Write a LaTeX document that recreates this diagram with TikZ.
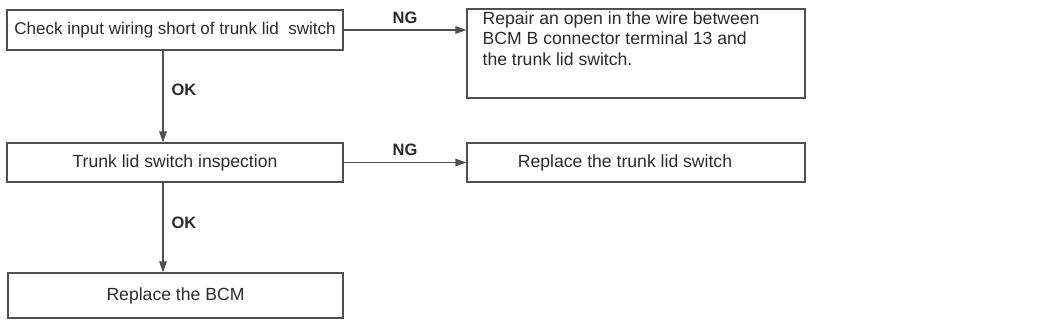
\documentclass[tikz,border=0pt]{standalone}
\usepackage{fontspec}
\setmainfont{Liberation Sans}
\usetikzlibrary{arrows.meta,positioning}
\definecolor{linec}{HTML}{505050}
\definecolor{textc}{HTML}{2A2A2A}
\tikzset{
  box/.style={draw=linec, line width=1.1pt, rectangle, inner sep=0pt, text=textc, font=\fontsize{17.6}{20.5}\selectfont},
  conn/.style={draw=linec, line width=1.1pt, -{Triangle[length=11pt,width=7.5pt]}},
  lab/.style={font=\bfseries\fontsize{16.5}{18}\selectfont, text=textc, inner sep=2pt}
}
\begin{document}
\begin{tikzpicture}[x=1pt,y=-1pt]
\useasboundingbox (0,0) rectangle (1050,325);
\node[box, minimum width=336pt, minimum height=40pt, font=\fontsize{17}{20}\selectfont] (b1) at (175,30) {Check input wiring short of trunk lid\ \ switch};
\node[box, minimum width=338pt, minimum height=89pt] (r1) at (636,53.5) {};
\node[text=textc, font=\fontsize{17.6}{20.5}\selectfont, anchor=north west, align=left, inner sep=0pt] (r1t) at ([xshift=16pt,yshift=-3pt]r1.north west) {Repair an open in the wire between\\BCM B connector terminal 13 and\\the trunk lid switch.};
\node[box, minimum width=336pt, minimum height=39pt] (b3) at (175,162.5) {Trunk lid switch inspection};
\node[box, minimum width=338pt, minimum height=39pt] (r2) at (636,162.5) {\hspace*{-22pt}Replace the trunk lid switch};
\node[box, minimum width=335pt, minimum height=45pt] (b5) at (175.5,295.5) {Replace the BCM};
\coordinate (v1) at ([xshift=-12pt]b1.south);
\coordinate (v3) at ([xshift=-12pt]b3.south);
\draw[conn] (b1.east) -- node[lab, above=4pt] {NG} (b1.east -| r1.west);
\draw[conn] (v1) -- node[lab, right=6pt, pos=0.43] {OK} (v1 |- b3.north);
\draw[conn] (b3.east) -- node[lab, above=4pt] {NG} (r2.west);
\draw[conn] (v3) -- node[lab, right=6pt, pos=0.45] {OK} (v3 |- b5.north);
\end{tikzpicture}
\end{document}
